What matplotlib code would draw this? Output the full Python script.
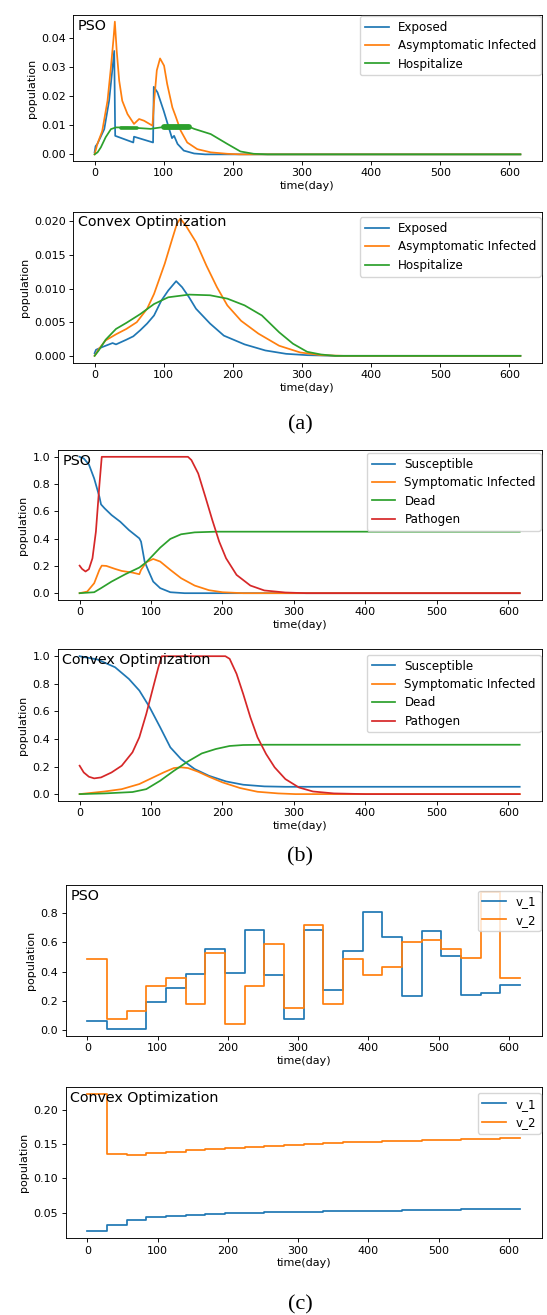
import numpy as np
import matplotlib
matplotlib.use("Agg")
from matplotlib import pyplot as plt

# scale of the original panels (they were shrunk to ~0.8 of default)
plt.rcParams['font.family'] = ['DejaVu Sans']
plt.rcParams['font.size'] = 8
plt.rcParams['axes.linewidth'] = 0.65
plt.rcParams['xtick.major.size'] = 2.8
plt.rcParams['ytick.major.size'] = 2.8
plt.rcParams['xtick.major.width'] = 0.65
plt.rcParams['ytick.major.width'] = 0.65
plt.rcParams['lines.linewidth'] = 1.25
plt.rcParams['legend.fontsize'] = 8.6

T_END = 616

# ---------------- (a) PSO ----------------
pso_exp_t = [0, 1.4, 4, 14, 21, 26, 28.4, 29.8, 56, 57, 84.6, 85.6, 91, 100, 108, 112, 115, 120, 129, 144, 160, 616]
pso_exp_v = [0.0007, 0.0028, 0.0036, 0.0087, 0.0185, 0.030, 0.0357, 0.0064, 0.0041, 0.0061, 0.0041, 0.0233,
             0.0214, 0.015, 0.0087, 0.0056, 0.0064, 0.0036, 0.0013, 0.0003, 0.0, 0.0]

pso_asym_t = [0, 4, 11, 18.7, 23.6, 27.4, 29.3, 32, 35.6, 40, 47.6, 57, 64.4, 71.6, 83.7, 86, 90, 94.7, 100.5,
              105, 112.5, 117, 124.5, 134, 148.5, 168, 192, 210, 616]
pso_asym_v = [0.0, 0.0036, 0.008, 0.0185, 0.030, 0.040, 0.0458, 0.0357, 0.0254, 0.0185, 0.0139, 0.0105,
              0.0122, 0.0116, 0.0099, 0.018, 0.029, 0.0331, 0.0306, 0.0243, 0.0162, 0.0133, 0.0082, 0.0041,
              0.0018, 0.0007, 0.0002, 0.0, 0.0]

pso_hosp_t = [0, 4.3, 9, 16, 23.6, 30.8, 47.6, 62, 81, 95.7, 110, 137, 144, 168, 192, 211, 230, 250, 616]
pso_hosp_v = [0.0, 0.0007, 0.0024, 0.0059, 0.0087, 0.0093, 0.0093, 0.0091, 0.0088, 0.0093, 0.0096, 0.0095,
              0.0088, 0.0070, 0.0036, 0.0010, 0.0002, 0.0, 0.0]
# segments where the hospitalize curve oscillates and looks thick: (start, end, level, width)
pso_hosp_thick = [(38, 62, 0.0092, 2.6), (100, 136, 0.0096, 4.2)]

# ---------------- (a) Convex ----------------
cvx_exp_t = [0, 2, 11, 26, 31, 46, 56, 66, 76, 86, 96.5, 106.5, 118, 126.6, 136.7, 146.7, 167, 187, 217, 247,
             277, 307.5, 350, 616]
cvx_exp_v = [0.0004, 0.0009, 0.0013, 0.0019, 0.0017, 0.0024, 0.0029, 0.0038, 0.0048, 0.006, 0.0082, 0.0097,
             0.0111, 0.0102, 0.0087, 0.007, 0.0048, 0.003, 0.0017, 0.0008, 0.0003, 0.0001, 0.0, 0.0]

cvx_asym_t = [0, 6, 16, 31, 46, 61, 76, 86, 101.5, 111.5, 119, 124, 131.7, 146.7, 161.8, 177, 192, 212, 237,
              267, 297.5, 327.6, 360, 616]
cvx_asym_v = [0.0, 0.001, 0.0023, 0.0032, 0.004, 0.005, 0.007, 0.0092, 0.0137, 0.0171, 0.0196, 0.0204, 0.0194,
              0.0169, 0.0134, 0.0102, 0.0075, 0.0052, 0.0033, 0.0015, 0.0005, 0.0001, 0.0, 0.0]

cvx_hosp_t = [0, 6, 16, 31, 46, 66, 86, 106.5, 136.7, 167, 192, 217, 242, 267, 287, 307.5, 327.6, 347.7, 616]
cvx_hosp_v = [0.0, 0.0008, 0.0024, 0.004, 0.0049, 0.0062, 0.0077, 0.0087, 0.0091, 0.009, 0.0085, 0.0075, 0.006,
              0.0035, 0.0018, 0.0006, 0.0002, 0.0, 0.0]

# ---------------- (b) PSO ----------------
pso_sus_t = [0, 5.8, 13, 20.4, 27.7, 30, 35, 44.7, 56.9, 69, 83.6, 86, 91, 95.8, 103, 112.8, 127, 147, 616]
pso_sus_v = [1.0, 0.988, 0.944, 0.841, 0.707, 0.651, 0.622, 0.573, 0.524, 0.463, 0.402, 0.378, 0.232, 0.171,
             0.085, 0.037, 0.007, 0.0, 0.0]

pso_sym_t = [0, 10.7, 20.4, 27.7, 31, 37.4, 49.6, 59, 74, 83.6, 86, 93.3, 103, 112.8, 127, 142, 161, 181, 200,
             229, 616]
pso_sym_v = [0.0, 0.012, 0.073, 0.171, 0.202, 0.2, 0.178, 0.163, 0.151, 0.139, 0.171, 0.227, 0.251, 0.232,
             0.171, 0.11, 0.056, 0.022, 0.007, 0.0, 0.0]

pso_dead_t = [0, 20.4, 30, 44.7, 64, 83.6, 93.3, 103, 112.8, 127, 142, 161, 190.6, 616]
pso_dead_v = [0.0, 0.007, 0.037, 0.085, 0.139, 0.188, 0.227, 0.28, 0.334, 0.398, 0.432, 0.446, 0.451, 0.451]

pso_path_t = [0, 3.4, 8.3, 13, 18, 22.8, 27.7, 31, 151.7, 156.5, 166, 176, 185.7, 195.4, 205, 219.7, 239,
              258.6, 288, 317, 616]
pso_path_v = [0.202, 0.178, 0.159, 0.176, 0.256, 0.451, 0.793, 1.0, 1.0, 0.976, 0.878, 0.707, 0.537, 0.378,
              0.256, 0.134, 0.056, 0.02, 0.005, 0.0, 0.0]

# ---------------- (b) Convex ----------------
cvx_sus_t = [0, 25, 49.6, 69, 83.6, 98, 112.8, 127, 142, 161, 181, 205, 229, 258.6, 288, 616]
cvx_sus_v = [1.0, 0.976, 0.92, 0.835, 0.751, 0.63, 0.484, 0.339, 0.254, 0.182, 0.133, 0.092, 0.068, 0.056,
             0.053, 0.053]

cvx_sym_t = [0, 35, 59, 83.6, 103, 117.6, 132, 142, 151.7, 166, 181, 200, 224.6, 249, 278, 302, 616]
cvx_sym_v = [0.0, 0.019, 0.036, 0.073, 0.121, 0.157, 0.189, 0.194, 0.189, 0.162, 0.126, 0.085, 0.044, 0.017,
             0.005, 0.0, 0.0]

cvx_dead_t = [0, 35, 74, 93.3, 112.8, 132, 151.7, 171, 190.6, 210, 229, 258.6, 616]
cvx_dead_v = [0.0, 0.005, 0.015, 0.036, 0.097, 0.169, 0.237, 0.295, 0.327, 0.349, 0.356, 0.358, 0.358]

cvx_path_t = [0, 5.8, 13, 20.4, 30, 44.7, 59, 74, 83.6, 93.3, 103, 110.3, 115, 204, 210, 219.7, 229, 239, 249,
              261, 273, 288, 307, 326.7, 356, 400, 616]
cvx_path_v = [0.206, 0.157, 0.126, 0.114, 0.121, 0.157, 0.206, 0.303, 0.412, 0.581, 0.775, 0.92, 1.0, 1.0,
              0.981, 0.872, 0.726, 0.557, 0.412, 0.291, 0.194, 0.109, 0.048, 0.019, 0.005, 0.0, 0.0]

# ---------------- (c) controls, one value per 28-day block ----------------
block_edges = list(range(0, T_END + 1, 28))
pso_v1 = [0.066, 0.009, 0.009, 0.193, 0.29, 0.381, 0.558, 0.39, 0.687, 0.379, 0.073, 0.685, 0.277, 0.542,
          0.805, 0.639, 0.231, 0.678, 0.508, 0.243, 0.252, 0.311]
pso_v2 = [0.49, 0.075, 0.134, 0.299, 0.358, 0.177, 0.531, 0.039, 0.304, 0.59, 0.152, 0.717, 0.179, 0.488,
          0.376, 0.435, 0.601, 0.617, 0.556, 0.492, 0.946, 0.356]
cvx_v1 = [0.0229, 0.033, 0.0389, 0.0432, 0.0456, 0.047, 0.0485, 0.0495, 0.050, 0.0505, 0.051, 0.0515, 0.052,
          0.0525, 0.053, 0.0533, 0.0537, 0.054, 0.0545, 0.055, 0.0553, 0.0556]
cvx_v2 = [0.2228, 0.1362, 0.1347, 0.1366, 0.139, 0.141, 0.143, 0.1449, 0.1463, 0.1478, 0.1492, 0.150, 0.1512,
          0.1526, 0.1531, 0.1541, 0.155, 0.1555, 0.1565, 0.157, 0.1575, 0.1584]

W, H = 547, 1315
fig = plt.figure(figsize=(W / 100, H / 100), dpi=100)


def make_axes(left, top, right, bottom):
    # pixel box -> figure fraction
    return fig.add_axes([left / W, 1 - bottom / H, (right - left) / W, (bottom - top) / H])


def finish(ax, label, gap_top=5.5, gap_right=1.0):
    ax.set_xlabel('time(day)', labelpad=2)
    ax.set_ylabel('population', labelpad=3)
    ax.set_xlim(-30.8, 646.8)
    ax.set_xticks([0, 100, 200, 300, 400, 500, 600])
    ax.tick_params(pad=2.5)
    ax.text(0.01, 0.975, label, transform=ax.transAxes, va='top', ha='left', fontsize=10.3)
    bb = ax.get_position()
    w_px, h_px = bb.width * W, bb.height * H
    ax.legend(loc='upper right', bbox_to_anchor=(1 - gap_right / w_px, 1 - gap_top / h_px),
              borderaxespad=0, borderpad=0.4, labelspacing=0.45, handlelength=2.0, handletextpad=0.75)


# (a)
ax = make_axes(73.3, 15, 541.7, 161)
ax.plot(pso_exp_t, pso_exp_v, label='Exposed')
ax.plot(pso_asym_t, pso_asym_v, label='Asymptomatic Infected')
ax.plot(pso_hosp_t, pso_hosp_v, label='Hospitalize')
for t0, t1, v, lw in pso_hosp_thick:
    ax.plot([t0, t1], [v, v], color='C2', lw=lw, solid_capstyle='round')
ax.set_yticks([0, 0.01, 0.02, 0.03, 0.04])
finish(ax, 'PSO', gap_top=1.0)

ax = make_axes(73.3, 211.7, 541.7, 362.7)
ax.plot(cvx_exp_t, cvx_exp_v, label='Exposed')
ax.plot(cvx_asym_t, cvx_asym_v, label='Asymptomatic Infected')
ax.plot(cvx_hosp_t, cvx_hosp_v, label='Hospitalize')
ax.set_yticks([0, 0.005, 0.01, 0.015, 0.02])
finish(ax, 'Convex Optimization')

# (b)
ax = make_axes(57.6, 450, 541.7, 600)
ax.plot(pso_sus_t, pso_sus_v, label='Susceptible')
ax.plot(pso_sym_t, pso_sym_v, label='Symptomatic Infected')
ax.plot(pso_dead_t, pso_dead_v, label='Dead')
ax.plot(pso_path_t, pso_path_v, label='Pathogen')
finish(ax, 'PSO', gap_top=3.0)

ax = make_axes(57.6, 649.3, 541.7, 801)
ax.plot(cvx_sus_t, cvx_sus_v, label='Susceptible')
ax.plot(cvx_sym_t, cvx_sym_v, label='Symptomatic Infected')
ax.plot(cvx_dead_t, cvx_dead_v, label='Dead')
ax.plot(cvx_path_t, cvx_path_v, label='Pathogen')
finish(ax, 'Convex Optimization')

# (c)
ax = make_axes(65.7, 885, 541.7, 1035.7)
ax.step(block_edges, pso_v1 + pso_v1[-1:], where='post', label='v_1')
ax.step(block_edges, pso_v2 + pso_v2[-1:], where='post', label='v_2')
finish(ax, 'PSO')

ax = make_axes(65.7, 1087.3, 541.7, 1238.3)
ax.step(block_edges, cvx_v1 + cvx_v1[-1:], where='post', label='v_1')
ax.step(block_edges, cvx_v2 + cvx_v2[-1:], where='post', label='v_2')
ax.set_yticks([0.05, 0.10, 0.15, 0.20])
finish(ax, 'Convex Optimization')

for y, cap in [(425, '(a)'), (857, '(b)'), (1305, '(c)')]:
    fig.text(300 / W, 1 - y / H, cap, ha='center', va='center',
             fontsize=16, family=['Liberation Serif', 'DejaVu Serif'])

fig.savefig('out.png', dpi=100)
